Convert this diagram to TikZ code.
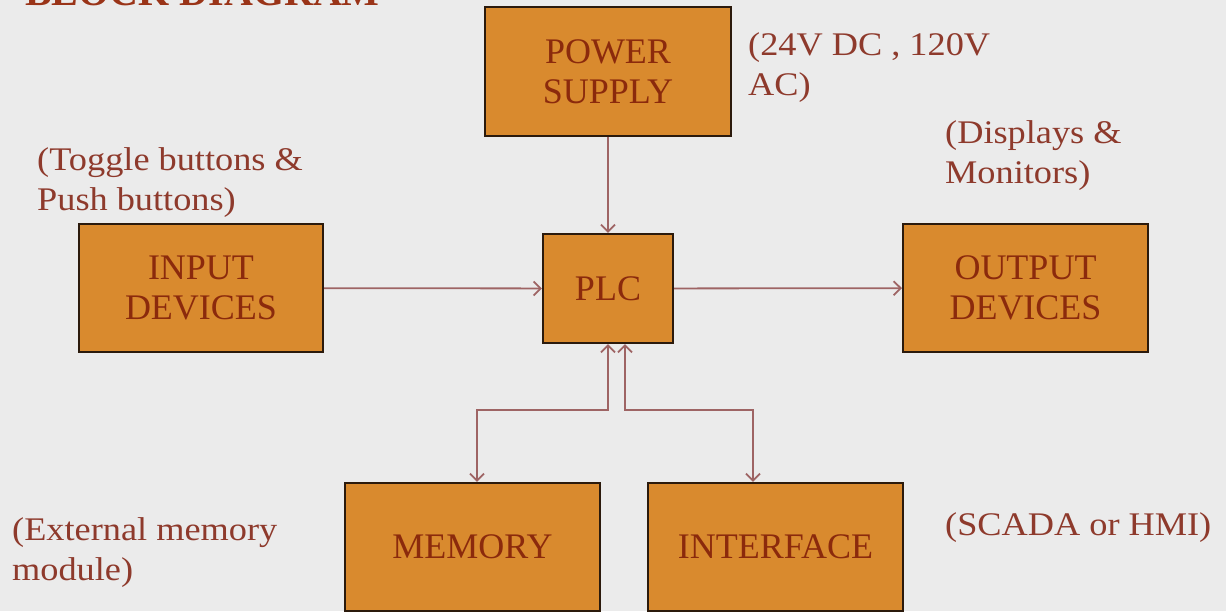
\documentclass[tikz,border=0pt]{standalone}
\usepackage{fontspec}
\setmainfont{Liberation Serif}
\newfontfamily\lblfont{Liberation Serif}[FakeStretch=1.1]
\usetikzlibrary{arrows.meta}
\definecolor{bg}{HTML}{EBEBEB}
\definecolor{boxfill}{HTML}{D98A2E}
\definecolor{boxedge}{HTML}{2B1A0C}
\definecolor{boxtext}{HTML}{8B2A0C}
\definecolor{lbltext}{HTML}{8E3A2C}
\definecolor{arrowc}{HTML}{9E6464}
\definecolor{titlec}{HTML}{9A3418}
\begin{document}
\begin{tikzpicture}[x=1pt,y=-1pt,
  blk/.style={draw=boxedge, line width=2.2pt, fill=boxfill, text=boxtext,
    font=\fontsize{36}{40}\selectfont, align=center, inner sep=0pt},
  lbl/.style={text=lbltext, font=\lblfont\fontsize{33}{40}\selectfont,
    align=left, inner sep=0pt, anchor=base west},
  tip/.tip={Straight Barb[length=7pt,width=14pt]},
  conn/.style={draw=arrowc, line width=1.8pt, -tip},
  dconn/.style={draw=arrowc, line width=1.8pt, tip-tip},
  ]
\useasboundingbox (0,0) rectangle (1226,611);
\clip (0,0) rectangle (1226,611);
\fill[bg] (0,0) rectangle (1226,611);

\node[anchor=base west, text=titlec, font=\bfseries\fontsize{40}{44}\selectfont, inner sep=0pt] (title) at (25,5) {BLOCK DIAGRAM};

\node[blk, minimum width=246pt, minimum height=129pt] (power) at (608,71.5) {POWER\\SUPPLY};
\node[blk, minimum width=130pt, minimum height=109pt] (plc) at (608,288.5) {PLC};
\node[blk, minimum width=244pt, minimum height=128pt] (input) at (201,288) {INPUT\\DEVICES};
\node[blk, minimum width=245pt, minimum height=128pt] (output) at (1025.5,288) {OUTPUT\\DEVICES};
\node[blk, minimum width=255pt, minimum height=128pt] (memory) at (472.5,547) {MEMORY};
\node[blk, minimum width=255pt, minimum height=128pt] (interface) at (775.5,547) {INTERFACE};

\node[lbl] (lps) at (748,95) {(24V DC , 120V\\AC)};
\node[lbl] (lin) at (37,210) {(Toggle buttons \&\\Push buttons)};
\node[lbl] (lout) at (945,183) {(Displays \&\\Monitors)};
\node[lbl] (lmem) at (12,580) {(External memory\\module)};
\node[lbl] (lif) at (945,535) {(SCADA or HMI)};

\coordinate (mbend) at (608,410);
\coordinate (ibend) at (625,410);

\draw[conn] (power) -- (plc);
\draw[conn] (input) -- (plc);
\draw[conn] (plc) -- (output);
\draw[dconn] (plc.south) -- (mbend) -| ([xshift=4.5pt]memory.north);
\draw[dconn] ([xshift=17pt]plc.south) -- (ibend) -| ([xshift=-22.5pt]interface.north);
\end{tikzpicture}
\end{document}
